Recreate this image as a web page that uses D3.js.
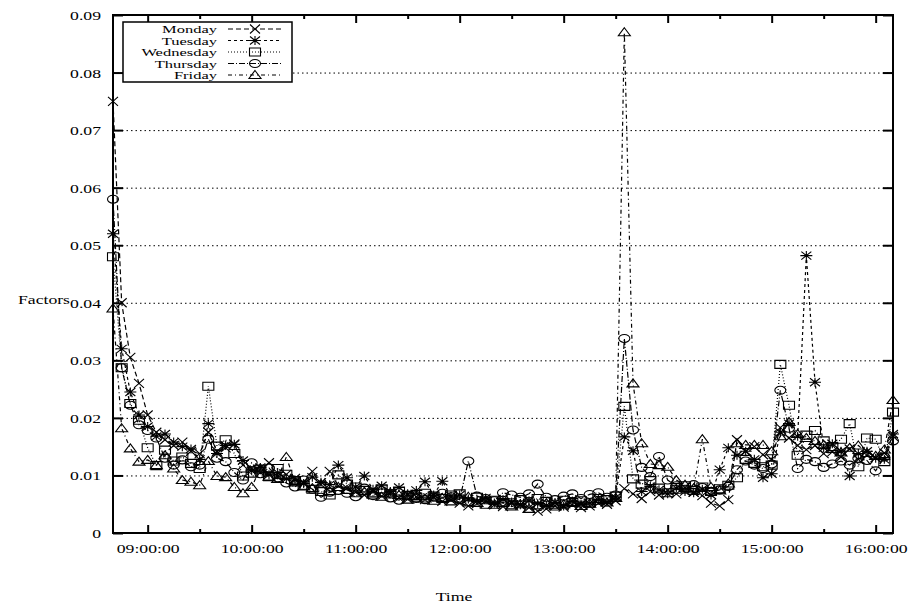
<!DOCTYPE html>
<html>
<head>
<meta charset="utf-8">
<script src="https://cdn.jsdelivr.net/npm/d3@7"></script>
<style>
body { margin: 0; background: #fff; }
text { font-family: "Liberation Serif", "Times New Roman", serif; font-size: 13px; fill: #000; }
text.leg { font-size: 11px; }
</style>
</head>
<body>
<script>
const width = 909,
      height = 611;

// sample times: every 5 minutes, 08:40 .. 16:10
const times = d3.timeMinutes(new Date(2000, 0, 1, 8, 40), new Date(2000, 0, 1, 16, 11), 5);

const dayNames = ["Monday", "Tuesday", "Wednesday", "Thursday", "Friday"];

const monday = [
  0.075, 0.040, 0.0305, 0.026, 0.0205, 0.0175, 0.0162, 0.0152, 0.0158, 0.0142,
  0.0138, 0.0175, 0.0142, 0.0148, 0.0155, 0.0118, 0.0112, 0.0105, 0.0122, 0.0098,
  0.0102, 0.0095, 0.0088, 0.0107, 0.0084, 0.0107, 0.0082, 0.0078, 0.0071, 0.0066,
  0.0072, 0.0064, 0.0068, 0.0061, 0.0059, 0.0063, 0.0058, 0.0062, 0.0055, 0.0057,
  0.0052, 0.0047, 0.0051, 0.0056, 0.0049, 0.0046, 0.0052, 0.0048, 0.0044, 0.0038,
  0.0042, 0.0047, 0.0045, 0.0049, 0.0044, 0.0047, 0.0052, 0.0050, 0.0056, 0.0077,
  0.0068, 0.0060, 0.0072, 0.0066, 0.0074, 0.0068, 0.0079, 0.0071, 0.0065, 0.0052,
  0.0047, 0.0058, 0.0162, 0.0142, 0.0150, 0.0136, 0.0128, 0.0183, 0.0165, 0.0152,
  0.0145, 0.0152, 0.0138, 0.0141, 0.0132, 0.0146, 0.0128, 0.0135, 0.0131, 0.0139,
  0.0168];

const tuesday = [
  0.052, 0.032, 0.0245, 0.0205, 0.0185, 0.0168, 0.0172, 0.0158, 0.0150, 0.0146,
  0.0128, 0.0190, 0.0138, 0.0152, 0.0154, 0.0126, 0.0108, 0.0114, 0.0101, 0.0105,
  0.0094, 0.0092, 0.0086, 0.0097, 0.0088, 0.0084, 0.0118, 0.0096, 0.0080, 0.0099,
  0.0076, 0.0082, 0.0072, 0.0079, 0.0068, 0.0074, 0.0089, 0.0066, 0.0090, 0.0064,
  0.0066, 0.0059, 0.0055, 0.0061, 0.0052, 0.0058, 0.0054, 0.0049, 0.0056, 0.0051,
  0.0048, 0.0053, 0.0047, 0.0055, 0.0050, 0.0052, 0.0058, 0.0054, 0.0062, 0.0167,
  0.0143, 0.0072, 0.0081, 0.0075, 0.0068, 0.0078, 0.0072, 0.0070, 0.0076, 0.0066,
  0.0110, 0.0148, 0.0135, 0.0142, 0.0128, 0.0096, 0.0103, 0.0175, 0.0190, 0.0168,
  0.0482, 0.0262, 0.0148, 0.0155, 0.0142, 0.0099, 0.0138, 0.0142, 0.0130, 0.0128,
  0.0172];

const wednesday = [
  0.048, 0.0287, 0.0225, 0.0196, 0.0148, 0.0117, 0.0144, 0.0125, 0.0132, 0.0121,
  0.0112, 0.0255, 0.0151, 0.0162, 0.0138, 0.0099, 0.0104, 0.0111, 0.0098, 0.0112,
  0.0102, 0.0091, 0.0083, 0.0076, 0.0072, 0.0066, 0.0101, 0.0085, 0.0080, 0.0074,
  0.0070, 0.0077, 0.0068, 0.0073, 0.0065, 0.0062, 0.0069, 0.0064, 0.0060, 0.0066,
  0.0068, 0.0054, 0.0062, 0.0050, 0.0057, 0.0053, 0.0049, 0.0058, 0.0052, 0.0060,
  0.0055, 0.0050, 0.0057, 0.0053, 0.0056, 0.0052, 0.0060, 0.0058, 0.0064, 0.0220,
  0.0094, 0.0085, 0.0091, 0.0078, 0.0070, 0.0076, 0.0082, 0.0074, 0.0080, 0.0072,
  0.0077, 0.0083, 0.0096, 0.0128, 0.0121, 0.0115, 0.0118, 0.0293, 0.0222, 0.0135,
  0.0170, 0.0178, 0.0160, 0.0150, 0.0163, 0.0190, 0.0115, 0.0165, 0.0163, 0.0124,
  0.0210];

const thursday = [
  0.058, 0.0287, 0.0222, 0.0188, 0.0178, 0.0165, 0.0130, 0.0118, 0.0127, 0.0115,
  0.0118, 0.0163, 0.0130, 0.0124, 0.0105, 0.0092, 0.0122, 0.0103, 0.0113, 0.0096,
  0.0087, 0.0080, 0.0092, 0.0076, 0.0062, 0.0071, 0.0074, 0.0069, 0.0063, 0.0078,
  0.0065, 0.0070, 0.0061, 0.0057, 0.0066, 0.0060, 0.0058, 0.0062, 0.0069, 0.0063,
  0.0058, 0.0125, 0.0064, 0.0060, 0.0056, 0.0070, 0.0066, 0.0062, 0.0068, 0.0085,
  0.0062, 0.0058, 0.0064, 0.0068, 0.0060, 0.0067, 0.0070, 0.0062, 0.0066, 0.0338,
  0.0179, 0.0114, 0.0098, 0.0133, 0.0092, 0.0082, 0.0076, 0.0084, 0.0079, 0.0071,
  0.0075, 0.0081, 0.0110, 0.0125, 0.0118, 0.0112, 0.0120, 0.0248, 0.0182, 0.0112,
  0.0128, 0.0124, 0.0114, 0.0120, 0.0125, 0.0118, 0.0130, 0.0126, 0.0108, 0.0132,
  0.0160];

const friday = [
  0.039, 0.0182, 0.0147, 0.0124, 0.0127, 0.0118, 0.0135, 0.0112, 0.0092, 0.0089,
  0.0083, 0.0125, 0.0099, 0.0097, 0.0080, 0.0069, 0.0080, 0.0112, 0.0098, 0.0094,
  0.0132, 0.0088, 0.0081, 0.0078, 0.0085, 0.0073, 0.0080, 0.0075, 0.0069, 0.0072,
  0.0067, 0.0063, 0.0070, 0.0066, 0.0058, 0.0064, 0.0060, 0.0056, 0.0061, 0.0055,
  0.0060, 0.0063, 0.0052, 0.0057, 0.0049, 0.0053, 0.0046, 0.0050, 0.0042, 0.0048,
  0.0052, 0.0046, 0.0050, 0.0054, 0.0047, 0.0051, 0.0056, 0.0053, 0.0061, 0.0870,
  0.0260, 0.0156, 0.0120, 0.0118, 0.0115, 0.0092, 0.0084, 0.0078, 0.0163, 0.0080,
  0.0074, 0.0086, 0.0156, 0.0153, 0.0153, 0.0153, 0.0142, 0.0168, 0.0193, 0.0172,
  0.0165, 0.0160, 0.0153, 0.0146, 0.0140, 0.0148, 0.0152, 0.0139, 0.0134, 0.0145,
  0.0231];

const yTicks = [0, 0.01, 0.02, 0.03, 0.04, 0.05, 0.06, 0.07, 0.08, 0.09];

// gnuplot-like look
const SX = 1.36; // text is stretched horizontally in the original
const plot = { left: 113, right: 893, top: 15, bottom: 533 };

const series = [
  { name: dayNames[0], values: monday,    dash: "5,3",     mark: "times" },
  { name: dayNames[1], values: tuesday,   dash: "3,3",     mark: "star" },
  { name: dayNames[2], values: wednesday, dash: "1,2",     mark: "square" },
  { name: dayNames[3], values: thursday,  dash: "6,2,1,2", mark: "circle" },
  { name: dayNames[4], values: friday,    dash: "4,3,1,3", mark: "triangle" }
];

const markPaths = {
  times: "M-5,-4.5L5,4.5M-5,4.5L5,-4.5",
  star: "M-5,-4L5,4M-5,4L5,-4M-6,0H6M0,-4.5V4.5",
  square: "M-5.5,-4H5.5V4H-5.5Z",
  triangle: "M0,-4.5L6,3.5H-6Z"
};

let svg = d3.select("body")
  .append("svg")
  .attr("width", width)
  .attr("height", height);

let x = d3.scaleTime()
  .domain([times[0], times[times.length - 1]])
  .range([plot.left, plot.right]);

let y = d3.scaleLinear()
  .domain([0, 0.09])
  .range([plot.bottom, plot.top]);

const hours = d3.timeHours(new Date(2000, 0, 1, 9), new Date(2000, 0, 1, 16, 1));
const halfHours = d3.timeMinutes(new Date(2000, 0, 1, 8, 30), new Date(2000, 0, 1, 16, 11), 60)
  .filter(d => d > times[0] && d < times[times.length - 1]);

// horizontal dotted grid
svg.append("g")
  .attr("transform", `translate(${plot.left},0)`)
  .call(d3.axisLeft(y).tickValues(yTicks.slice(1, -1)).tickSize(-(plot.right - plot.left)).tickFormat(""))
  .call(g => g.select(".domain").remove())
  .call(g => g.selectAll("line").attr("stroke-dasharray", "1.5,3").attr("stroke-width", 1));

// axes
let fmt = d3.timeFormat("%H:%M:%S");

svg.append("g")
  .attr("transform", `translate(0,${plot.bottom})`)
  .call(d3.axisBottom(x).tickValues(hours).tickSize(-8).tickFormat(fmt))
  .call(g => g.select(".domain").remove())
  .call(g => g.selectAll("line").attr("stroke-width", 2))
  .call(g => g.selectAll("text")
    .attr("y", 20).attr("dy", null)
    .attr("transform", `scale(${SX},1)`));

svg.append("g")
  .attr("transform", `translate(0,${plot.bottom})`)
  .call(d3.axisBottom(x).tickValues(halfHours).tickSize(-4).tickFormat(""))
  .call(g => g.select(".domain").remove())
  .call(g => g.selectAll("line").attr("stroke-width", 2));

svg.append("g")
  .attr("transform", `translate(0,${plot.top})`)
  .call(d3.axisTop(x).tickValues(hours).tickSize(-8).tickFormat(""))
  .call(g => g.select(".domain").remove())
  .call(g => g.selectAll("line").attr("stroke-width", 2));

svg.append("g")
  .attr("transform", `translate(0,${plot.top})`)
  .call(d3.axisTop(x).tickValues(halfHours).tickSize(-4).tickFormat(""))
  .call(g => g.select(".domain").remove())
  .call(g => g.selectAll("line").attr("stroke-width", 2));

svg.append("g")
  .attr("transform", `translate(${plot.left},0)`)
  .call(d3.axisLeft(y).tickValues(yTicks).tickSize(-10)
    .tickFormat(d => d === 0 ? "0" : d3.format(".2f")(d)))
  .call(g => g.select(".domain").remove())
  .call(g => g.selectAll("line").attr("stroke-width", 2))
  .call(g => g.selectAll("text")
    .attr("x", null).attr("dy", null)
    .attr("transform", `translate(-12,4.5) scale(${SX},1)`));

svg.append("g")
  .attr("transform", `translate(${plot.right},0)`)
  .call(d3.axisRight(y).tickValues(yTicks).tickSize(-10).tickFormat(""))
  .call(g => g.select(".domain").remove())
  .call(g => g.selectAll("line").attr("stroke-width", 2));

svg.append("rect")
  .attr("x", plot.left).attr("y", plot.top)
  .attr("width", plot.right - plot.left)
  .attr("height", plot.bottom - plot.top)
  .attr("fill", "none").attr("stroke", "#000").attr("stroke-width", 2);

// axis titles
svg.append("text")
  .attr("text-anchor", "middle")
  .attr("transform", `translate(44,303.5) scale(${SX},1)`)
  .text("Factors");

svg.append("text")
  .attr("text-anchor", "middle")
  .attr("transform", `translate(454,601) scale(${SX},1)`)
  .text("Time");

// series
function drawMark(g, mark) {
  if (mark === "circle") {
    g.append("ellipse").attr("rx", 5.5).attr("ry", 4)
      .attr("fill", "none").attr("stroke", "#000").attr("stroke-width", 1.1);
  } else {
    g.append("path").attr("d", markPaths[mark])
      .attr("fill", "none").attr("stroke", "#000").attr("stroke-width", 1.1);
  }
}

let line = d3.line()
  .x((d, i) => x(times[i]))
  .y(d => y(d));

let layers = svg.selectAll("g.day")
  .data(series).enter()
  .append("g").attr("class", "day");

layers.append("path")
  .attr("d", d => line(d.values))
  .attr("fill", "none")
  .attr("stroke", "#000")
  .attr("stroke-width", 1.2)
  .attr("stroke-dasharray", d => d.dash);

layers.each(function (s) {
  d3.select(this).selectAll("g.pt")
    .data(s.values).enter()
    .append("g").attr("class", "pt")
    .attr("transform", (d, i) => `translate(${x(times[i])},${y(d)})`)
    .each(function () { drawMark(d3.select(this), s.mark); });
});

// legend
let legend = svg.append("g");
legend.append("rect")
  .attr("x", 123).attr("y", 22).attr("width", 169).attr("height", 60)
  .attr("fill", "#fff").attr("stroke", "#000").attr("stroke-width", 1.5);

let rows = legend.selectAll("g.row")
  .data(series).enter()
  .append("g").attr("class", "row")
  .attr("transform", (d, i) => `translate(0,${29 + i * 11.5})`);

rows.append("text")
  .attr("class", "leg")
  .attr("text-anchor", "end")
  .attr("transform", `translate(217,4) scale(1.5,1)`)
  .text(d => d.name);

rows.append("line")
  .attr("x1", 228).attr("x2", 282)
  .attr("stroke", "#000").attr("stroke-width", 1)
  .attr("stroke-dasharray", d => d.dash);

rows.append("g")
  .attr("transform", "translate(255,0)")
  .each(function (d) { drawMark(d3.select(this), d.mark); });
</script>
</body>
</html>
